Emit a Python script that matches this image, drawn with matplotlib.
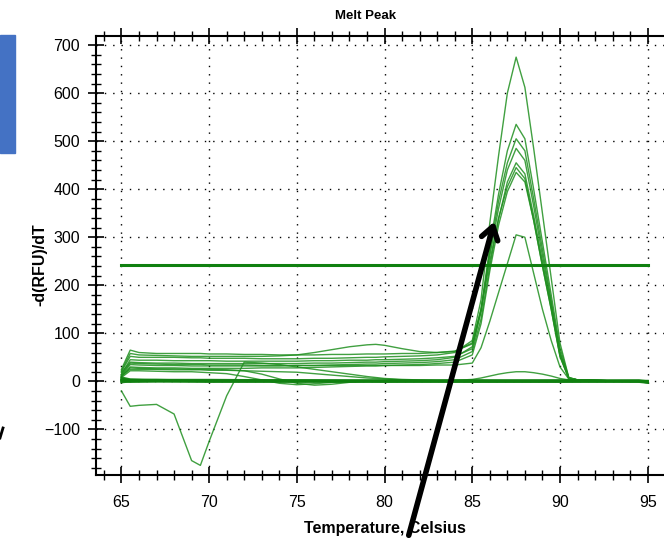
import matplotlib
matplotlib.use("Agg")
import matplotlib.pyplot as plt
from matplotlib.ticker import MultipleLocator
from matplotlib.patches import Rectangle, FancyArrowPatch
from matplotlib.lines import Line2D

plt.rcParams['font.family'] = ['Liberation Sans', 'DejaVu Sans']

# temperature grid for the melt curves
temps = [65, 65.5, 66, 67, 68, 69, 69.5, 70, 71, 72, 73, 74, 75, 76, 77, 78, 79, 79.5, 80,
         81, 82, 83, 84, 85, 85.5, 86, 86.5, 87, 87.5, 88, 88.5, 89, 89.5, 90, 90.5, 91,
         92, 93, 94, 95]

# curves with a melt peak near 87.5 C
peak_a = [20, 52, 50, 50, 50, 49, 49, 48, 48, 48, 47, 47, 47, 48, 48, 49, 50, 50, 51,
          52, 53, 55, 60, 85, 170, 330, 470, 600, 675, 612, 485, 350, 215, 80, 8, 3,
          2, 1, 1, 0]
peak_b = [25, 65, 60, 58, 58, 58, 58, 57, 57, 56, 56, 55, 55, 55, 56, 56, 57, 57, 57,
          58, 58, 60, 63, 78, 150, 280, 390, 480, 535, 505, 400, 290, 180, 70, 8, 3,
          2, 1, 0, 0]
peak_c = [15, 45, 44, 44, 43, 43, 43, 43, 42, 42, 42, 42, 42, 43, 43, 44, 44, 45, 45,
          46, 47, 49, 52, 68, 145, 270, 375, 455, 505, 480, 380, 275, 168, 62, 7, 3,
          2, 1, 0, 0]
peak_d = [18, 40, 39, 38, 38, 37, 37, 37, 37, 37, 37, 37, 37, 38, 38, 39, 40, 40, 41,
          42, 43, 45, 50, 72, 148, 262, 360, 440, 485, 460, 365, 262, 162, 58, 7, 3,
          2, 1, 0, 0]
peak_e = [12, 35, 34, 33, 33, 32, 32, 32, 32, 32, 32, 32, 33, 33, 34, 35, 36, 36, 37,
          38, 39, 41, 45, 62, 130, 240, 338, 415, 455, 432, 345, 250, 155, 55, 6, 3,
          2, 1, 0, 0]
peak_f = [22, 58, 55, 54, 53, 52, 52, 52, 52, 52, 52, 53, 55, 60, 66, 72, 76, 77, 75,
          68, 62, 60, 62, 80, 150, 250, 340, 405, 445, 422, 335, 240, 150, 52, 6, 3,
          2, 1, 0, 0]
peak_g = [10, 30, 29, 28, 28, 27, 27, 27, 27, 27, 28, 28, 28, 29, 30, 31, 32, 32, 33,
          34, 35, 37, 40, 55, 120, 230, 325, 395, 435, 415, 335, 240, 150, 52, 6, 3,
          2, 1, 0, 0]
peak_h = [14, 38, 37, 36, 35, 35, 35, 34, 34, 34, 33, 33, 33, 33, 33, 33, 33, 33, 33,
          33, 33, 34, 34, 38, 70, 125, 185, 245, 305, 300, 225, 150, 85, 30, 5, 2,
          1, 1, 0, 0]

# curves without a real peak
flat_i = [10, 28, 27, 26, 26, 25, 25, 25, 24, 22, 15, 5, -4, -8, -6, -2, 0, 1, 1,
          1, 1, 1, 1, 1, 1, 1, 1, 1, 1, 1, 1, 1, 1, 1, 1, 1,
          0, 0, 0, 0]
flat_j = [8, 22, 22, 21, 20, 20, 19, 18, 16, 10, 3, -4, -7, -5, -2, 0, 0, 0, 0,
          0, 0, 0, 0, 0, 0, 0, 0, 0, 0, 0, 0, 0, 0, 0, 0, 0,
          0, 0, 0, 0]
flat_k = [12, 25, 25, 25, 24, 24, 24, 23, 23, 22, 21, 20, 19, 16, 13, 10, 7, 6, 5,
          3, 2, 2, 2, 4, 7, 11, 15, 18, 20, 20, 18, 15, 11, 6, 3, 2,
          1, 1, 0, 0]
dip_l = [-20, -52, -50, -48, -68, -165, -175, -125, -30, 40, 38, 35, 30, 25, 20, 15, 10, 8, 6,
         4, 3, 2, 2, 2, 2, 2, 2, 2, 2, 2, 2, 2, 2, 2, 2, 1,
         1, 0, 0, 0]

# near-zero curves (no template)
zero_temps = [65, 65.5, 67, 70, 75, 80, 85, 90, 94.5, 95]
zero_curves = [
    [5, 3, 2, 2, 2, 1, 2, 2, 2, 0],
    [2, 1, 1, 0, 1, 0, 0, 1, 0, -2],
    [8, 4, 3, 3, 2, 2, 1, 1, 1, -1],
    [0, -1, 0, 1, 0, -1, 0, 0, -1, -3],
    [3, 2, 3, 1, 1, 1, 1, 0, 1, 1],
    [-2, 0, 0, -1, -1, 0, -1, -1, 0, -2],
]

threshold = 242

fig = plt.figure(figsize=(6.64, 5.38), dpi=100)
ax = fig.add_axes([96 / 664, 1 - 475 / 538, 578 / 664, (475 - 36) / 538])

green = '#1f8f1f'
for y in [peak_a, peak_b, peak_c, peak_d, peak_e, peak_f, peak_g, peak_h,
          flat_i, flat_j, flat_k, dip_l]:
    ax.plot(temps, y, color=green, lw=1.0, alpha=0.85)
for y in zero_curves:
    ax.plot(zero_temps, y, color='#108010', lw=1.6, alpha=0.9)

ax.plot([65, 95], [threshold, threshold], color='#108010', lw=2.2)

ax.set_xlim(63.55, 96.5)
ax.set_ylim(-195, 719)
ax.xaxis.set_major_locator(MultipleLocator(5))
ax.xaxis.set_minor_locator(MultipleLocator(1))
ax.yaxis.set_major_locator(MultipleLocator(100))
ax.yaxis.set_minor_locator(MultipleLocator(20))
ax.set_xticks(range(65, 96, 5))
ax.set_yticks(range(-100, 701, 100))

ax.grid(True, which='major', color='black', linestyle=(0, (1, 5)), lw=1.0)
ax.tick_params(which='major', direction='inout', length=11, width=1.2,
               labelsize=11.5, top=True, pad=6, colors='black')
ax.tick_params(which='minor', direction='inout', length=7, width=1.0, top=True)
ax.tick_params(axis='x', pad=9)
for s in ['left', 'bottom', 'top']:
    ax.spines[s].set_linewidth(1.5)
ax.spines['right'].set_visible(False)

fig.text(366 / 664, 1 - 16 / 538, 'Melt Peak', ha='center', va='center',
         fontsize=9.5, fontweight='bold')
fig.text(385 / 664, 1 - 528 / 538, 'Temperature, Celsius', ha='center', va='center',
         fontsize=11.5, fontweight='bold')
fig.text(40 / 664, 1 - 265 / 538, '-d(RFU)/dT', ha='center', va='center',
         fontsize=11.5, fontweight='bold', rotation=90)

# blue block at left edge
fig.patches.append(Rectangle((0, 1 - 153 / 538), 15 / 664, 118 / 538,
                             transform=fig.transFigure, color='#4472C4'))
# small black fragment at left edge
fig.lines.append(Line2D([0, 3 / 664], [1 - 438 / 538, 1 - 428 / 538],
                        transform=fig.transFigure, color='black', lw=2))

# black pointer arrow
arrow = FancyArrowPatch((408 / 664, 0.0), (495 / 664, 1 - 219 / 538),
                        transform=fig.transFigure, arrowstyle='->,head_length=9,head_width=6',
                        color='black', lw=4, mutation_scale=1)
fig.patches.append(arrow)

fig.savefig('out.png', dpi=100)
